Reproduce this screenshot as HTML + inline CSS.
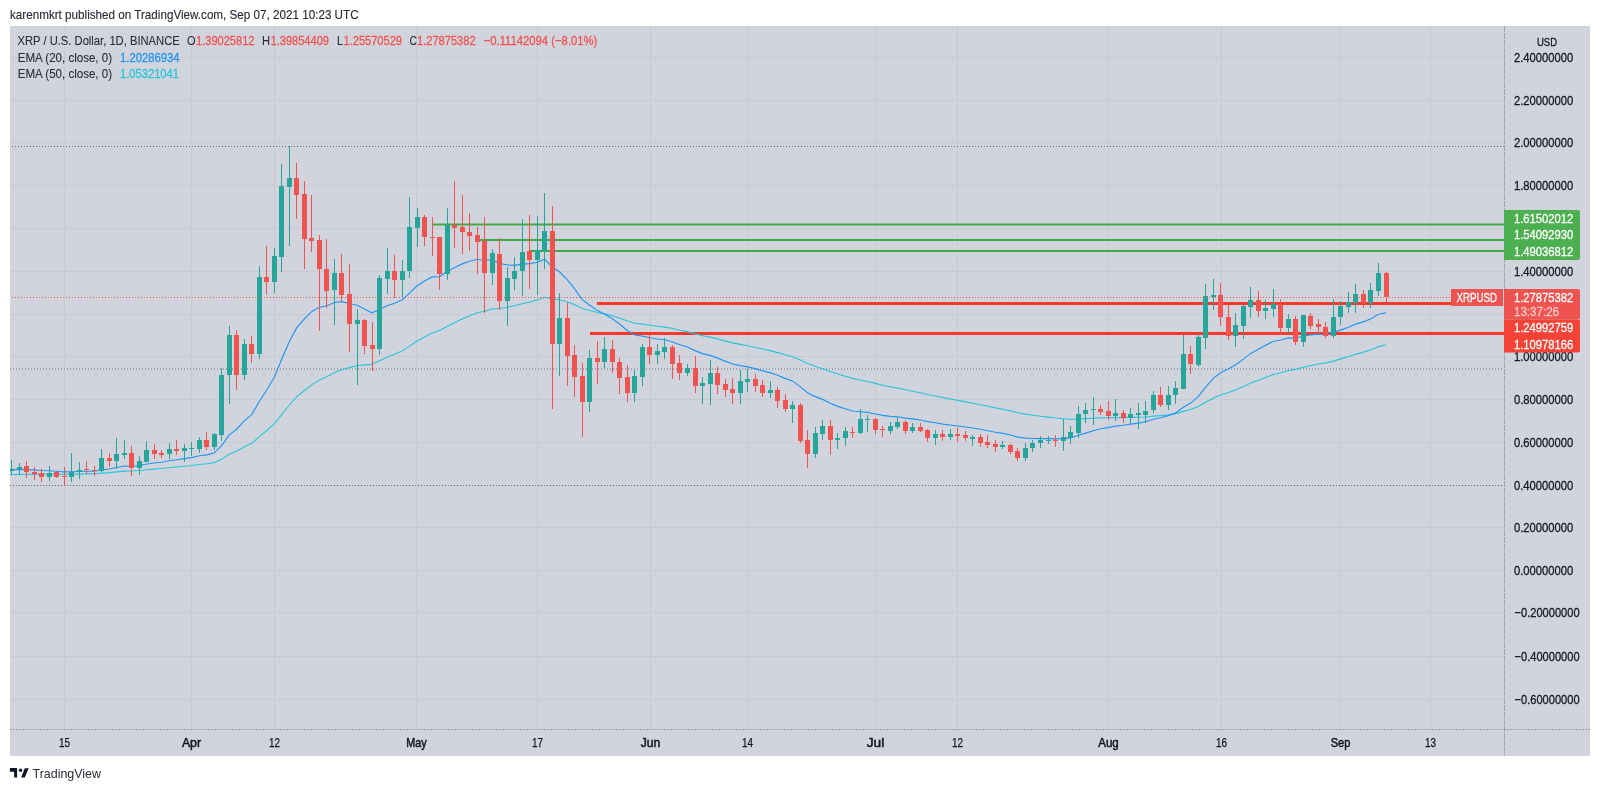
<!DOCTYPE html><html><head><meta charset="utf-8"><style>
html,body{margin:0;padding:0;background:#fff;width:1600px;height:791px;overflow:hidden}
svg{position:absolute;left:0;top:0;will-change:transform;font-family:"Liberation Sans",sans-serif}
</style></head><body>
<svg width="1600" height="791" viewBox="0 0 1600 791">
<defs><clipPath id="pane"><rect x="10" y="26" width="1494" height="703.5"/></clipPath></defs>
<text x="10" y="18.5" font-size="12.6" fill="#2a2e39" stroke="#2a2e39" stroke-width="0.15" textLength="348.6" lengthAdjust="spacingAndGlyphs">karenmkrt published on TradingView.com, Sep 07, 2021 10:23 UTC</text>
<rect x="10" y="26" width="1580" height="730" fill="#d1d4dc"/>
<path d="M10 57.5H1504 M10 100.5H1504 M10 142.5H1504 M10 185.5H1504 M10 228.5H1504 M10 271.5H1504 M10 314.5H1504 M10 356.5H1504 M10 399.5H1504 M10 442.5H1504 M10 485.5H1504 M10 527.5H1504 M10 570.5H1504 M10 612.5H1504 M10 656.5H1504 M10 699.5H1504 M64.5 26V729.5 M191.5 26V729.5 M274.5 26V729.5 M416.5 26V729.5 M537.5 26V729.5 M650.5 26V729.5 M747.5 26V729.5 M875.5 26V729.5 M957.5 26V729.5 M1108.5 26V729.5 M1221.5 26V729.5 M1340.5 26V729.5 M1430.5 26V729.5" stroke="#c7cad2" stroke-width="1" fill="none"/>
<path d="M1504.5 26V756" stroke="#8f929b" stroke-width="1" stroke-dasharray="6,1" fill="none" opacity="0.7"/>
<path d="M10 729.5H1590" stroke="#8f929b" stroke-width="1" stroke-dasharray="2,1" fill="none" opacity="0.75"/>
<g clip-path="url(#pane)">
<path d="M10 146.5H1504" stroke="#6a6d78" stroke-width="1" stroke-dasharray="1,2" stroke-dashoffset="1" fill="none"/>
<path d="M10 369H1504 M10 485.5H1504" stroke="#6a6d78" stroke-width="1" stroke-dasharray="1,2" fill="none"/>
<path d="M433 224.5H1504 M480 240H1504 M530 251H1504" stroke="#43a847" stroke-width="2" fill="none"/>
<path d="M597 303.5H1452 M590 333.5H1504" stroke="#f7392c" stroke-width="3" fill="none"/>
<polyline points="4.0,475.0 11.5,474.8 19.0,474.4 26.5,474.3 34.0,474.3 41.5,474.3 49.1,474.2 56.6,474.3 64.1,474.4 71.6,474.3 79.1,474.1 86.6,473.9 94.1,473.8 101.6,473.1 109.1,472.6 116.7,471.9 124.2,471.1 131.7,471.0 139.2,470.5 146.7,469.7 154.2,469.1 161.7,468.5 169.2,467.7 176.7,467.0 184.3,466.2 191.8,465.5 199.3,464.5 206.8,463.7 214.3,462.6 221.8,459.1 229.3,454.2 236.8,451.1 244.3,446.8 251.9,443.2 259.4,436.6 266.9,430.5 274.4,423.7 281.9,414.3 289.4,405.0 296.9,396.7 304.4,390.5 311.9,384.6 319.5,380.1 327.0,376.5 334.5,372.5 342.0,369.4 349.5,367.6 357.0,365.7 364.5,364.9 372.0,364.2 379.5,360.8 387.1,357.3 394.6,354.2 402.1,350.9 409.6,346.1 417.1,341.0 424.6,336.9 432.1,333.0 439.6,330.6 447.1,326.5 454.6,322.6 462.2,319.0 469.7,315.7 477.2,312.8 484.7,311.2 492.2,308.9 499.7,308.5 507.2,307.3 514.7,305.8 522.2,303.7 529.8,302.0 537.3,299.9 544.8,297.2 552.3,299.0 559.8,299.7 567.3,301.9 574.8,304.8 582.3,308.6 589.8,310.5 597.4,312.5 604.9,313.9 612.4,315.8 619.9,318.2 627.4,321.1 634.9,323.2 642.4,324.1 649.9,325.3 657.4,326.3 665.0,327.1 672.5,328.5 680.0,330.2 687.5,331.6 695.0,333.7 702.5,335.7 710.0,337.1 717.5,338.9 725.0,340.9 732.6,342.9 740.1,344.4 747.6,345.7 755.1,347.3 762.6,349.0 770.1,350.6 777.6,352.6 785.1,354.8 792.6,356.7 800.2,360.0 807.7,363.6 815.2,366.3 822.7,368.7 830.2,371.4 837.7,374.0 845.2,376.2 852.7,378.4 860.2,380.0 867.8,381.5 875.3,383.4 882.8,385.2 890.3,386.8 897.8,388.1 905.3,389.8 912.8,391.2 920.3,392.7 927.8,394.5 935.4,396.0 942.9,397.6 950.4,399.0 957.9,400.4 965.4,401.9 972.9,403.2 980.4,404.8 987.9,406.3 995.4,407.9 1003.0,409.3 1010.5,410.9 1018.0,412.8 1025.5,414.1 1033.0,415.2 1040.5,416.2 1048.0,417.1 1055.5,418.0 1063.0,418.7 1070.6,419.2 1078.1,419.0 1085.6,418.6 1093.1,418.2 1100.6,417.9 1108.1,417.8 1115.6,417.6 1123.1,417.6 1130.6,417.4 1138.2,417.2 1145.7,417.0 1153.2,416.1 1160.7,415.6 1168.2,414.8 1175.7,413.7 1183.2,411.4 1190.7,409.5 1198.2,406.6 1205.7,402.3 1213.3,398.1 1220.8,394.9 1228.3,392.5 1235.8,389.9 1243.3,386.6 1250.8,383.1 1258.3,380.3 1265.8,377.4 1273.3,374.5 1280.9,372.7 1288.4,370.5 1295.9,369.4 1303.4,367.2 1310.9,365.6 1318.4,364.0 1325.9,362.9 1333.4,361.1 1340.9,358.9 1348.5,356.6 1356.0,354.1 1363.5,352.1 1371.0,349.7 1378.5,346.6 1386.0,344.7" fill="none" stroke="#26c6da" stroke-width="1.1"/>
<polyline points="4.0,469.9 11.5,469.7 19.0,469.4 26.5,469.6 34.0,469.9 41.5,470.5 49.1,470.7 56.6,471.3 64.1,471.8 71.6,471.7 79.1,471.5 86.6,471.3 94.1,471.2 101.6,469.9 109.1,469.0 116.7,467.5 124.2,466.0 131.7,466.2 139.2,465.6 146.7,464.0 154.2,463.0 161.7,462.2 169.2,460.8 176.7,459.8 184.3,458.6 191.8,457.6 199.3,455.8 206.8,454.9 214.3,452.8 221.8,445.3 229.3,434.8 236.8,429.0 244.3,420.9 251.9,414.4 259.4,401.3 266.9,389.8 274.4,377.0 281.9,358.8 289.4,341.5 296.9,327.4 304.4,318.9 311.9,311.4 319.5,307.3 327.0,305.7 334.5,302.5 342.0,301.7 349.5,303.8 357.0,305.3 364.5,309.0 372.0,312.8 379.5,309.4 387.1,305.7 394.6,303.2 402.1,300.0 409.6,293.1 417.1,285.8 424.6,281.1 432.1,276.9 439.6,276.6 447.1,271.6 454.6,267.4 462.2,263.9 469.7,261.2 477.2,259.3 484.7,260.5 492.2,259.7 499.7,263.5 507.2,264.9 514.7,265.4 522.2,264.1 529.8,263.6 537.3,262.3 544.8,259.2 552.3,267.2 559.8,272.0 567.3,279.9 574.8,289.1 582.3,299.7 589.8,305.2 597.4,310.6 604.9,314.2 612.4,318.7 619.9,324.2 627.4,330.7 634.9,335.0 642.4,336.1 649.9,337.8 657.4,339.0 665.0,339.7 672.5,342.0 680.0,344.8 687.5,347.0 695.0,350.6 702.5,353.6 710.0,355.4 717.5,358.1 725.0,361.1 732.6,364.0 740.1,365.6 747.6,366.9 755.1,368.6 762.6,370.9 770.1,372.6 777.6,375.3 785.1,378.4 792.6,380.9 800.2,386.6 807.7,392.9 815.2,396.6 822.7,399.4 830.2,403.2 837.7,406.4 845.2,408.7 852.7,411.0 860.2,411.7 867.8,412.4 875.3,414.0 882.8,415.4 890.3,416.4 897.8,416.8 905.3,418.1 912.8,418.9 920.3,420.0 927.8,421.6 935.4,422.8 942.9,424.1 950.4,425.0 957.9,426.0 965.4,427.0 972.9,428.0 980.4,429.3 987.9,430.7 995.4,432.2 1003.0,433.4 1010.5,435.0 1018.0,437.1 1025.5,438.1 1033.0,438.5 1040.5,438.6 1048.0,438.6 1055.5,438.8 1063.0,438.6 1070.6,437.9 1078.1,435.5 1085.6,433.1 1093.1,430.7 1100.6,428.8 1108.1,427.6 1115.6,426.1 1123.1,425.3 1130.6,424.1 1138.2,423.1 1145.7,421.8 1153.2,419.2 1160.7,417.8 1168.2,415.6 1175.7,412.9 1183.2,407.2 1190.7,403.1 1198.2,396.7 1205.7,387.1 1213.3,378.3 1220.8,372.5 1228.3,368.9 1235.8,364.7 1243.3,359.1 1250.8,353.4 1258.3,349.3 1265.8,345.3 1273.3,341.3 1280.9,340.0 1288.4,337.9 1295.9,338.2 1303.4,336.0 1310.9,334.9 1318.4,334.1 1325.9,334.2 1333.4,332.5 1340.9,329.9 1348.5,327.2 1356.0,323.9 1363.5,321.9 1371.0,318.8 1378.5,314.3 1386.0,312.7" fill="none" stroke="#2196f3" stroke-width="1.15"/>
<g shape-rendering="crispEdges"><rect x="11" y="459.8" width="1" height="14.7" fill="#26a69a"/><rect x="9" y="468.8" width="5" height="1.9" fill="#26a69a"/><rect x="19" y="462.8" width="1" height="11.7" fill="#26a69a"/><rect x="17" y="466.6" width="5" height="2.2" fill="#26a69a"/><rect x="26" y="460.8" width="1" height="17.0" fill="#ef5350"/><rect x="24" y="466.4" width="5" height="5.5" fill="#ef5350"/><rect x="34" y="467.4" width="1" height="12.6" fill="#ef5350"/><rect x="32" y="471.5" width="5" height="2.5" fill="#ef5350"/><rect x="41" y="468.5" width="1" height="13.5" fill="#ef5350"/><rect x="39" y="473.3" width="5" height="3.6" fill="#ef5350"/><rect x="49" y="466.4" width="1" height="14.3" fill="#26a69a"/><rect x="47" y="472.6" width="5" height="4.3" fill="#26a69a"/><rect x="56" y="470.7" width="1" height="7.1" fill="#ef5350"/><rect x="54" y="472.4" width="5" height="4.9" fill="#ef5350"/><rect x="64" y="467.4" width="1" height="18.5" fill="#ef5350"/><rect x="62" y="476.2" width="5" height="1.0" fill="#ef5350"/><rect x="71" y="452.9" width="1" height="29.1" fill="#26a69a"/><rect x="69" y="471.7" width="5" height="5.2" fill="#26a69a"/><rect x="79" y="461.7" width="1" height="17.1" fill="#26a69a"/><rect x="77" y="469.8" width="5" height="1.9" fill="#26a69a"/><rect x="86" y="460.8" width="1" height="13.2" fill="#ef5350"/><rect x="84" y="469.1" width="5" height="1.0" fill="#ef5350"/><rect x="94" y="465.5" width="1" height="10.4" fill="#ef5350"/><rect x="92" y="469.5" width="5" height="1.7" fill="#ef5350"/><rect x="101" y="448.9" width="1" height="23.2" fill="#26a69a"/><rect x="99" y="457.9" width="5" height="12.6" fill="#26a69a"/><rect x="109" y="452.7" width="1" height="14.7" fill="#ef5350"/><rect x="107" y="457.9" width="5" height="2.9" fill="#ef5350"/><rect x="116" y="438.0" width="1" height="31.3" fill="#26a69a"/><rect x="114" y="453.9" width="5" height="6.7" fill="#26a69a"/><rect x="124" y="439.9" width="1" height="19.0" fill="#26a69a"/><rect x="122" y="452.9" width="5" height="1.7" fill="#26a69a"/><rect x="131" y="446.1" width="1" height="30.3" fill="#ef5350"/><rect x="129" y="452.9" width="5" height="15.3" fill="#ef5350"/><rect x="139" y="455.8" width="1" height="19.2" fill="#26a69a"/><rect x="137" y="460.8" width="5" height="7.4" fill="#26a69a"/><rect x="146" y="440.9" width="1" height="20.8" fill="#26a69a"/><rect x="144" y="449.9" width="5" height="11.8" fill="#26a69a"/><rect x="154" y="444.0" width="1" height="14.9" fill="#ef5350"/><rect x="152" y="449.9" width="5" height="4.0" fill="#ef5350"/><rect x="161" y="449.9" width="1" height="7.8" fill="#ef5350"/><rect x="159" y="452.7" width="5" height="1.9" fill="#ef5350"/><rect x="169" y="443.0" width="1" height="15.7" fill="#26a69a"/><rect x="167" y="448.9" width="5" height="5.0" fill="#26a69a"/><rect x="176" y="439.9" width="1" height="15.0" fill="#ef5350"/><rect x="174" y="448.9" width="5" height="1.9" fill="#ef5350"/><rect x="184" y="444.0" width="1" height="17.7" fill="#26a69a"/><rect x="182" y="448.0" width="5" height="2.8" fill="#26a69a"/><rect x="191" y="441.8" width="1" height="14.0" fill="#26a69a"/><rect x="189" y="448.0" width="5" height="1.0" fill="#26a69a"/><rect x="199" y="437.2" width="1" height="15.6" fill="#26a69a"/><rect x="197" y="439.9" width="5" height="9.1" fill="#26a69a"/><rect x="206" y="431.9" width="1" height="18.0" fill="#ef5350"/><rect x="204" y="439.9" width="5" height="6.8" fill="#ef5350"/><rect x="214" y="433.2" width="1" height="16.7" fill="#26a69a"/><rect x="212" y="433.8" width="5" height="13.2" fill="#26a69a"/><rect x="221" y="367.8" width="1" height="73.0" fill="#26a69a"/><rect x="219" y="374.6" width="5" height="60.1" fill="#26a69a"/><rect x="229" y="325.7" width="1" height="78.7" fill="#26a69a"/><rect x="227" y="335.2" width="5" height="39.8" fill="#26a69a"/><rect x="236" y="330.4" width="1" height="59.4" fill="#ef5350"/><rect x="234" y="335.2" width="5" height="39.8" fill="#ef5350"/><rect x="244" y="339.0" width="1" height="40.7" fill="#26a69a"/><rect x="242" y="344.1" width="5" height="30.9" fill="#26a69a"/><rect x="251" y="336.1" width="1" height="26.4" fill="#ef5350"/><rect x="249" y="344.1" width="5" height="9.5" fill="#ef5350"/><rect x="259" y="266.0" width="1" height="92.6" fill="#26a69a"/><rect x="257" y="276.8" width="5" height="76.7" fill="#26a69a"/><rect x="266" y="246.2" width="1" height="48.5" fill="#ef5350"/><rect x="264" y="276.8" width="5" height="5.0" fill="#ef5350"/><rect x="274" y="248.3" width="1" height="44.5" fill="#26a69a"/><rect x="272" y="255.9" width="5" height="25.9" fill="#26a69a"/><rect x="281" y="163.8" width="1" height="108.6" fill="#26a69a"/><rect x="279" y="186.1" width="5" height="70.4" fill="#26a69a"/><rect x="289" y="146.3" width="1" height="99.5" fill="#26a69a"/><rect x="287" y="177.5" width="5" height="9.5" fill="#26a69a"/><rect x="296" y="162.8" width="1" height="56.6" fill="#ef5350"/><rect x="294" y="177.5" width="5" height="17.1" fill="#ef5350"/><rect x="304" y="181.1" width="1" height="88.3" fill="#ef5350"/><rect x="302" y="194.4" width="5" height="44.2" fill="#ef5350"/><rect x="311" y="195.0" width="1" height="56.7" fill="#ef5350"/><rect x="309" y="238.2" width="5" height="2.5" fill="#ef5350"/><rect x="319" y="235.3" width="1" height="95.4" fill="#ef5350"/><rect x="317" y="240.1" width="5" height="29.1" fill="#ef5350"/><rect x="326" y="239.1" width="1" height="69.3" fill="#ef5350"/><rect x="324" y="268.9" width="5" height="21.8" fill="#ef5350"/><rect x="334" y="258.8" width="1" height="66.0" fill="#26a69a"/><rect x="332" y="273.3" width="5" height="16.7" fill="#26a69a"/><rect x="341" y="254.1" width="1" height="46.6" fill="#ef5350"/><rect x="339" y="273.3" width="5" height="21.3" fill="#ef5350"/><rect x="349" y="263.8" width="1" height="88.1" fill="#ef5350"/><rect x="347" y="294.0" width="5" height="30.1" fill="#ef5350"/><rect x="357" y="309.0" width="1" height="76.4" fill="#26a69a"/><rect x="355" y="319.7" width="5" height="4.4" fill="#26a69a"/><rect x="364" y="319.1" width="1" height="34.7" fill="#ef5350"/><rect x="362" y="319.7" width="5" height="25.9" fill="#ef5350"/><rect x="372" y="321.6" width="1" height="49.3" fill="#ef5350"/><rect x="370" y="345.4" width="5" height="3.4" fill="#ef5350"/><rect x="379" y="274.6" width="1" height="80.1" fill="#26a69a"/><rect x="377" y="278.4" width="5" height="70.4" fill="#26a69a"/><rect x="387" y="247.8" width="1" height="46.2" fill="#26a69a"/><rect x="385" y="270.5" width="5" height="8.9" fill="#26a69a"/><rect x="394" y="255.0" width="1" height="42.5" fill="#ef5350"/><rect x="392" y="270.5" width="5" height="9.6" fill="#ef5350"/><rect x="402" y="260.0" width="1" height="37.4" fill="#26a69a"/><rect x="400" y="270.9" width="5" height="9.2" fill="#26a69a"/><rect x="409" y="197.1" width="1" height="80.7" fill="#26a69a"/><rect x="407" y="227.4" width="5" height="43.6" fill="#26a69a"/><rect x="417" y="208.1" width="1" height="38.7" fill="#26a69a"/><rect x="415" y="216.9" width="5" height="11.1" fill="#26a69a"/><rect x="424" y="215.1" width="1" height="30.6" fill="#ef5350"/><rect x="422" y="216.9" width="5" height="20.0" fill="#ef5350"/><rect x="432" y="216.7" width="1" height="39.7" fill="#ef5350"/><rect x="430" y="236.5" width="5" height="1.4" fill="#ef5350"/><rect x="439" y="237.1" width="1" height="52.7" fill="#ef5350"/><rect x="437" y="237.1" width="5" height="37.0" fill="#ef5350"/><rect x="447" y="208.1" width="1" height="72.0" fill="#26a69a"/><rect x="445" y="224.9" width="5" height="49.2" fill="#26a69a"/><rect x="454" y="181.3" width="1" height="66.6" fill="#ef5350"/><rect x="452" y="224.9" width="5" height="3.1" fill="#ef5350"/><rect x="462" y="195.2" width="1" height="58.3" fill="#ef5350"/><rect x="460" y="227.4" width="5" height="4.4" fill="#ef5350"/><rect x="469" y="212.9" width="1" height="37.9" fill="#ef5350"/><rect x="467" y="231.6" width="5" height="4.0" fill="#ef5350"/><rect x="477" y="227.4" width="1" height="46.8" fill="#ef5350"/><rect x="475" y="235.2" width="5" height="6.5" fill="#ef5350"/><rect x="484" y="216.7" width="1" height="96.4" fill="#ef5350"/><rect x="482" y="241.3" width="5" height="31.3" fill="#ef5350"/><rect x="492" y="249.3" width="1" height="35.4" fill="#26a69a"/><rect x="490" y="252.9" width="5" height="19.7" fill="#26a69a"/><rect x="499" y="237.5" width="1" height="72.8" fill="#ef5350"/><rect x="497" y="254.0" width="5" height="46.5" fill="#ef5350"/><rect x="507" y="267.0" width="1" height="58.7" fill="#26a69a"/><rect x="505" y="278.3" width="5" height="22.2" fill="#26a69a"/><rect x="514" y="256.9" width="1" height="32.8" fill="#26a69a"/><rect x="512" y="270.7" width="5" height="8.3" fill="#26a69a"/><rect x="522" y="218.8" width="1" height="76.9" fill="#26a69a"/><rect x="520" y="252.1" width="5" height="18.6" fill="#26a69a"/><rect x="529" y="214.8" width="1" height="74.0" fill="#ef5350"/><rect x="527" y="251.0" width="5" height="9.2" fill="#ef5350"/><rect x="537" y="216.0" width="1" height="78.8" fill="#26a69a"/><rect x="535" y="250.4" width="5" height="9.8" fill="#26a69a"/><rect x="544" y="193.0" width="1" height="76.3" fill="#26a69a"/><rect x="542" y="230.5" width="5" height="20.0" fill="#26a69a"/><rect x="552" y="206.2" width="1" height="202.3" fill="#ef5350"/><rect x="550" y="230.5" width="5" height="113.3" fill="#ef5350"/><rect x="559" y="292.6" width="1" height="83.4" fill="#26a69a"/><rect x="557" y="317.5" width="5" height="26.3" fill="#26a69a"/><rect x="567" y="302.8" width="1" height="83.0" fill="#ef5350"/><rect x="565" y="317.5" width="5" height="38.4" fill="#ef5350"/><rect x="574" y="345.1" width="1" height="51.5" fill="#ef5350"/><rect x="572" y="354.8" width="5" height="21.9" fill="#ef5350"/><rect x="582" y="363.0" width="1" height="73.8" fill="#ef5350"/><rect x="580" y="376.4" width="5" height="25.1" fill="#ef5350"/><rect x="589" y="349.8" width="1" height="61.8" fill="#26a69a"/><rect x="587" y="358.1" width="5" height="43.4" fill="#26a69a"/><rect x="597" y="341.1" width="1" height="42.7" fill="#ef5350"/><rect x="595" y="358.1" width="5" height="4.1" fill="#ef5350"/><rect x="604" y="337.1" width="1" height="30.8" fill="#26a69a"/><rect x="602" y="348.9" width="5" height="13.3" fill="#26a69a"/><rect x="612" y="340.0" width="1" height="33.0" fill="#ef5350"/><rect x="610" y="348.9" width="5" height="13.3" fill="#ef5350"/><rect x="619" y="358.2" width="1" height="35.6" fill="#ef5350"/><rect x="617" y="362.0" width="5" height="15.5" fill="#ef5350"/><rect x="627" y="365.0" width="1" height="36.9" fill="#ef5350"/><rect x="625" y="377.4" width="5" height="15.3" fill="#ef5350"/><rect x="634" y="369.5" width="1" height="32.4" fill="#26a69a"/><rect x="632" y="376.4" width="5" height="16.3" fill="#26a69a"/><rect x="642" y="343.5" width="1" height="42.2" fill="#26a69a"/><rect x="640" y="347.1" width="5" height="29.5" fill="#26a69a"/><rect x="649" y="335.2" width="1" height="28.3" fill="#ef5350"/><rect x="647" y="347.1" width="5" height="7.8" fill="#ef5350"/><rect x="657" y="343.5" width="1" height="20.8" fill="#26a69a"/><rect x="655" y="351.1" width="5" height="3.8" fill="#26a69a"/><rect x="664" y="338.4" width="1" height="21.0" fill="#26a69a"/><rect x="662" y="347.1" width="5" height="4.8" fill="#26a69a"/><rect x="672" y="345.3" width="1" height="33.5" fill="#ef5350"/><rect x="670" y="347.1" width="5" height="16.6" fill="#ef5350"/><rect x="679" y="355.2" width="1" height="24.7" fill="#ef5350"/><rect x="677" y="363.0" width="5" height="9.8" fill="#ef5350"/><rect x="687" y="363.9" width="1" height="12.1" fill="#26a69a"/><rect x="685" y="367.6" width="5" height="5.4" fill="#26a69a"/><rect x="695" y="356.1" width="1" height="36.6" fill="#ef5350"/><rect x="693" y="367.9" width="5" height="17.7" fill="#ef5350"/><rect x="702" y="376.5" width="1" height="27.3" fill="#26a69a"/><rect x="700" y="383.1" width="5" height="2.7" fill="#26a69a"/><rect x="710" y="359.8" width="1" height="44.8" fill="#26a69a"/><rect x="708" y="372.5" width="5" height="11.1" fill="#26a69a"/><rect x="717" y="366.6" width="1" height="27.1" fill="#ef5350"/><rect x="715" y="372.5" width="5" height="12.6" fill="#ef5350"/><rect x="725" y="379.3" width="1" height="17.4" fill="#ef5350"/><rect x="723" y="384.1" width="5" height="5.6" fill="#ef5350"/><rect x="732" y="378.3" width="1" height="25.5" fill="#ef5350"/><rect x="730" y="389.2" width="5" height="3.5" fill="#ef5350"/><rect x="740" y="370.4" width="1" height="33.2" fill="#26a69a"/><rect x="738" y="381.1" width="5" height="11.6" fill="#26a69a"/><rect x="747" y="369.2" width="1" height="22.5" fill="#26a69a"/><rect x="745" y="379.3" width="5" height="2.8" fill="#26a69a"/><rect x="755" y="373.5" width="1" height="18.2" fill="#ef5350"/><rect x="753" y="379.3" width="5" height="6.5" fill="#ef5350"/><rect x="762" y="380.2" width="1" height="16.4" fill="#ef5350"/><rect x="760" y="385.1" width="5" height="7.8" fill="#ef5350"/><rect x="770" y="381.2" width="1" height="16.4" fill="#26a69a"/><rect x="768" y="390.0" width="5" height="2.9" fill="#26a69a"/><rect x="777" y="387.1" width="1" height="20.4" fill="#ef5350"/><rect x="775" y="390.0" width="5" height="11.0" fill="#ef5350"/><rect x="785" y="394.2" width="1" height="18.2" fill="#ef5350"/><rect x="783" y="400.1" width="5" height="8.6" fill="#ef5350"/><rect x="792" y="401.0" width="1" height="22.3" fill="#26a69a"/><rect x="790" y="405.0" width="5" height="3.7" fill="#26a69a"/><rect x="800" y="403.0" width="1" height="39.5" fill="#ef5350"/><rect x="798" y="405.0" width="5" height="36.3" fill="#ef5350"/><rect x="807" y="430.1" width="1" height="38.2" fill="#ef5350"/><rect x="805" y="440.0" width="5" height="13.6" fill="#ef5350"/><rect x="815" y="426.5" width="1" height="31.9" fill="#26a69a"/><rect x="813" y="432.9" width="5" height="20.7" fill="#26a69a"/><rect x="822" y="420.2" width="1" height="19.7" fill="#26a69a"/><rect x="820" y="426.3" width="5" height="7.6" fill="#26a69a"/><rect x="830" y="420.2" width="1" height="34.6" fill="#ef5350"/><rect x="828" y="426.3" width="5" height="13.4" fill="#ef5350"/><rect x="837" y="433.2" width="1" height="15.5" fill="#26a69a"/><rect x="835" y="437.9" width="5" height="1.7" fill="#26a69a"/><rect x="845" y="427.3" width="1" height="18.4" fill="#26a69a"/><rect x="843" y="431.1" width="5" height="7.3" fill="#26a69a"/><rect x="852" y="427.3" width="1" height="10.6" fill="#ef5350"/><rect x="850" y="431.5" width="5" height="1.4" fill="#ef5350"/><rect x="860" y="408.9" width="1" height="25.0" fill="#26a69a"/><rect x="858" y="419.4" width="5" height="13.5" fill="#26a69a"/><rect x="867" y="414.8" width="1" height="16.9" fill="#26a69a"/><rect x="865" y="419.3" width="5" height="1.0" fill="#26a69a"/><rect x="875" y="418.3" width="1" height="15.4" fill="#ef5350"/><rect x="873" y="418.5" width="5" height="11.4" fill="#ef5350"/><rect x="882" y="426.2" width="1" height="10.5" fill="#ef5350"/><rect x="880" y="428.9" width="5" height="1.0" fill="#ef5350"/><rect x="890" y="421.5" width="1" height="12.2" fill="#26a69a"/><rect x="888" y="426.2" width="5" height="4.8" fill="#26a69a"/><rect x="897" y="417.3" width="1" height="11.3" fill="#26a69a"/><rect x="895" y="421.5" width="5" height="5.4" fill="#26a69a"/><rect x="905" y="419.8" width="1" height="13.9" fill="#ef5350"/><rect x="903" y="421.5" width="5" height="9.5" fill="#ef5350"/><rect x="912" y="422.6" width="1" height="10.1" fill="#26a69a"/><rect x="910" y="427.2" width="5" height="3.8" fill="#26a69a"/><rect x="920" y="423.4" width="1" height="8.6" fill="#ef5350"/><rect x="918" y="427.2" width="5" height="3.8" fill="#ef5350"/><rect x="927" y="429.2" width="1" height="12.6" fill="#ef5350"/><rect x="925" y="430.1" width="5" height="7.6" fill="#ef5350"/><rect x="935" y="430.1" width="1" height="14.4" fill="#26a69a"/><rect x="933" y="434.2" width="5" height="3.7" fill="#26a69a"/><rect x="942" y="430.1" width="1" height="10.9" fill="#ef5350"/><rect x="940" y="434.2" width="5" height="2.7" fill="#ef5350"/><rect x="950" y="429.3" width="1" height="10.3" fill="#26a69a"/><rect x="948" y="434.2" width="5" height="2.7" fill="#26a69a"/><rect x="957" y="428.3" width="1" height="13.4" fill="#ef5350"/><rect x="955" y="434.2" width="5" height="1.7" fill="#ef5350"/><rect x="965" y="431.1" width="1" height="9.9" fill="#ef5350"/><rect x="963" y="434.9" width="5" height="3.0" fill="#ef5350"/><rect x="972" y="435.4" width="1" height="10.3" fill="#26a69a"/><rect x="970" y="437.2" width="5" height="1.7" fill="#26a69a"/><rect x="980" y="434.2" width="1" height="12.5" fill="#ef5350"/><rect x="978" y="437.2" width="5" height="5.5" fill="#ef5350"/><rect x="987" y="435.2" width="1" height="12.3" fill="#ef5350"/><rect x="985" y="442.3" width="5" height="2.7" fill="#ef5350"/><rect x="995" y="440.2" width="1" height="11.6" fill="#ef5350"/><rect x="993" y="444.0" width="5" height="2.7" fill="#ef5350"/><rect x="1002" y="441.0" width="1" height="7.7" fill="#26a69a"/><rect x="1000" y="445.0" width="5" height="1.7" fill="#26a69a"/><rect x="1010" y="444.3" width="1" height="9.3" fill="#ef5350"/><rect x="1008" y="445.0" width="5" height="6.6" fill="#ef5350"/><rect x="1017" y="448.0" width="1" height="12.7" fill="#ef5350"/><rect x="1015" y="451.1" width="5" height="6.5" fill="#ef5350"/><rect x="1025" y="443.0" width="1" height="17.5" fill="#26a69a"/><rect x="1023" y="448.0" width="5" height="9.6" fill="#26a69a"/><rect x="1032" y="440.2" width="1" height="11.4" fill="#26a69a"/><rect x="1030" y="443.0" width="5" height="5.0" fill="#26a69a"/><rect x="1040" y="436.2" width="1" height="11.3" fill="#26a69a"/><rect x="1038" y="440.0" width="5" height="3.0" fill="#26a69a"/><rect x="1048" y="435.9" width="1" height="7.8" fill="#26a69a"/><rect x="1046" y="439.6" width="5" height="1.0" fill="#26a69a"/><rect x="1055" y="435.4" width="1" height="11.3" fill="#ef5350"/><rect x="1053" y="439.9" width="5" height="1.0" fill="#ef5350"/><rect x="1063" y="418.7" width="1" height="31.9" fill="#26a69a"/><rect x="1061" y="437.2" width="5" height="3.4" fill="#26a69a"/><rect x="1070" y="426.3" width="1" height="17.4" fill="#26a69a"/><rect x="1068" y="432.1" width="5" height="5.7" fill="#26a69a"/><rect x="1078" y="406.1" width="1" height="31.7" fill="#26a69a"/><rect x="1076" y="413.9" width="5" height="18.9" fill="#26a69a"/><rect x="1085" y="403.1" width="1" height="19.9" fill="#26a69a"/><rect x="1083" y="410.1" width="5" height="4.3" fill="#26a69a"/><rect x="1093" y="397.2" width="1" height="27.8" fill="#26a69a"/><rect x="1091" y="409.0" width="5" height="1.3" fill="#26a69a"/><rect x="1100" y="405.1" width="1" height="10.3" fill="#ef5350"/><rect x="1098" y="409.0" width="5" height="2.5" fill="#ef5350"/><rect x="1108" y="401.0" width="1" height="19.2" fill="#ef5350"/><rect x="1106" y="410.8" width="5" height="5.4" fill="#ef5350"/><rect x="1115" y="399.0" width="1" height="22.3" fill="#26a69a"/><rect x="1113" y="412.6" width="5" height="3.6" fill="#26a69a"/><rect x="1123" y="409.8" width="1" height="13.2" fill="#ef5350"/><rect x="1121" y="412.6" width="5" height="5.6" fill="#ef5350"/><rect x="1130" y="407.8" width="1" height="15.9" fill="#26a69a"/><rect x="1128" y="413.9" width="5" height="4.3" fill="#26a69a"/><rect x="1138" y="403.1" width="1" height="25.9" fill="#26a69a"/><rect x="1136" y="413.4" width="5" height="1.2" fill="#26a69a"/><rect x="1145" y="401.0" width="1" height="21.9" fill="#26a69a"/><rect x="1143" y="410.9" width="5" height="3.6" fill="#26a69a"/><rect x="1153" y="391.3" width="1" height="22.1" fill="#26a69a"/><rect x="1151" y="395.1" width="5" height="15.2" fill="#26a69a"/><rect x="1160" y="387.1" width="1" height="19.4" fill="#ef5350"/><rect x="1158" y="395.1" width="5" height="9.7" fill="#ef5350"/><rect x="1168" y="385.9" width="1" height="23.7" fill="#26a69a"/><rect x="1166" y="395.1" width="5" height="9.7" fill="#26a69a"/><rect x="1175" y="381.2" width="1" height="22.8" fill="#26a69a"/><rect x="1173" y="388.2" width="5" height="7.2" fill="#26a69a"/><rect x="1183" y="335.1" width="1" height="54.1" fill="#26a69a"/><rect x="1181" y="353.8" width="5" height="35.4" fill="#26a69a"/><rect x="1190" y="346.2" width="1" height="28.0" fill="#ef5350"/><rect x="1188" y="353.8" width="5" height="10.6" fill="#ef5350"/><rect x="1198" y="334.4" width="1" height="32.9" fill="#26a69a"/><rect x="1196" y="337.0" width="5" height="27.6" fill="#26a69a"/><rect x="1205" y="284.2" width="1" height="64.4" fill="#26a69a"/><rect x="1203" y="296.3" width="5" height="41.3" fill="#26a69a"/><rect x="1213" y="279.1" width="1" height="30.7" fill="#26a69a"/><rect x="1211" y="295.3" width="5" height="1.5" fill="#26a69a"/><rect x="1220" y="282.9" width="1" height="42.7" fill="#ef5350"/><rect x="1218" y="295.3" width="5" height="22.1" fill="#ef5350"/><rect x="1228" y="304.4" width="1" height="35.1" fill="#ef5350"/><rect x="1226" y="316.8" width="5" height="18.9" fill="#ef5350"/><rect x="1235" y="313.0" width="1" height="33.5" fill="#26a69a"/><rect x="1233" y="325.4" width="5" height="10.3" fill="#26a69a"/><rect x="1243" y="304.8" width="1" height="34.1" fill="#26a69a"/><rect x="1241" y="306.0" width="5" height="19.9" fill="#26a69a"/><rect x="1250" y="287.1" width="1" height="30.9" fill="#26a69a"/><rect x="1248" y="300.1" width="5" height="6.8" fill="#26a69a"/><rect x="1258" y="290.9" width="1" height="25.9" fill="#ef5350"/><rect x="1256" y="300.1" width="5" height="10.6" fill="#ef5350"/><rect x="1265" y="300.1" width="1" height="19.2" fill="#26a69a"/><rect x="1263" y="307.9" width="5" height="2.8" fill="#26a69a"/><rect x="1273" y="289.2" width="1" height="27.3" fill="#26a69a"/><rect x="1271" y="303.9" width="5" height="4.7" fill="#26a69a"/><rect x="1280" y="299.3" width="1" height="33.3" fill="#ef5350"/><rect x="1278" y="303.9" width="5" height="24.3" fill="#ef5350"/><rect x="1288" y="314.0" width="1" height="19.8" fill="#26a69a"/><rect x="1286" y="318.7" width="5" height="9.5" fill="#26a69a"/><rect x="1295" y="316.1" width="1" height="28.5" fill="#ef5350"/><rect x="1293" y="318.7" width="5" height="23.4" fill="#ef5350"/><rect x="1303" y="314.9" width="1" height="31.6" fill="#26a69a"/><rect x="1301" y="315.3" width="5" height="26.8" fill="#26a69a"/><rect x="1310" y="313.0" width="1" height="15.8" fill="#ef5350"/><rect x="1308" y="315.8" width="5" height="9.8" fill="#ef5350"/><rect x="1318" y="318.7" width="1" height="13.9" fill="#ef5350"/><rect x="1316" y="324.4" width="5" height="2.2" fill="#ef5350"/><rect x="1325" y="321.6" width="1" height="16.4" fill="#ef5350"/><rect x="1323" y="326.6" width="5" height="9.1" fill="#ef5350"/><rect x="1333" y="299.3" width="1" height="38.3" fill="#26a69a"/><rect x="1331" y="316.8" width="5" height="18.9" fill="#26a69a"/><rect x="1340" y="301.0" width="1" height="24.0" fill="#26a69a"/><rect x="1338" y="306.0" width="5" height="11.4" fill="#26a69a"/><rect x="1348" y="292.0" width="1" height="20.6" fill="#26a69a"/><rect x="1346" y="301.8" width="5" height="4.8" fill="#26a69a"/><rect x="1355" y="284.1" width="1" height="28.5" fill="#26a69a"/><rect x="1353" y="294.0" width="5" height="8.8" fill="#26a69a"/><rect x="1363" y="290.2" width="1" height="17.3" fill="#ef5350"/><rect x="1361" y="294.0" width="5" height="8.8" fill="#ef5350"/><rect x="1370" y="283.1" width="1" height="24.4" fill="#26a69a"/><rect x="1368" y="290.2" width="5" height="12.6" fill="#26a69a"/><rect x="1378" y="262.6" width="1" height="33.2" fill="#26a69a"/><rect x="1376" y="272.5" width="5" height="18.2" fill="#26a69a"/><rect x="1386" y="272.1" width="1" height="29.7" fill="#ef5350"/><rect x="1384" y="272.5" width="5" height="24.9" fill="#ef5350"/></g>
<path d="M10 297.5H1452" stroke="#ef5350" stroke-width="1" stroke-dasharray="1,2" stroke-dashoffset="1" fill="none"/>
</g>
<text x="17.5" y="44.9" font-size="12.8" fill="#2a2e39" stroke="#2a2e39" stroke-width="0.1" textLength="162.2" lengthAdjust="spacingAndGlyphs">XRP / U.S. Dollar, 1D, BINANCE</text>
<text x="187" y="44.9" font-size="12.8" fill="#2a2e39" stroke="#2a2e39" stroke-width="0.1" textLength="8.6" lengthAdjust="spacingAndGlyphs">O</text>
<text x="196" y="44.9" font-size="12.8" fill="#ef5350" stroke="#ef5350" stroke-width="0.3" textLength="58.5" lengthAdjust="spacingAndGlyphs">1.39025812</text>
<text x="262" y="44.9" font-size="12.8" fill="#2a2e39" stroke="#2a2e39" stroke-width="0.1" textLength="8" lengthAdjust="spacingAndGlyphs">H</text>
<text x="270.5" y="44.9" font-size="12.8" fill="#ef5350" stroke="#ef5350" stroke-width="0.3" textLength="58.5" lengthAdjust="spacingAndGlyphs">1.39854409</text>
<text x="337" y="44.9" font-size="12.8" fill="#2a2e39" stroke="#2a2e39" stroke-width="0.1" textLength="6" lengthAdjust="spacingAndGlyphs">L</text>
<text x="343.5" y="44.9" font-size="12.8" fill="#ef5350" stroke="#ef5350" stroke-width="0.3" textLength="58.5" lengthAdjust="spacingAndGlyphs">1.25570529</text>
<text x="409.5" y="44.9" font-size="12.8" fill="#2a2e39" stroke="#2a2e39" stroke-width="0.1" textLength="7.5" lengthAdjust="spacingAndGlyphs">C</text>
<text x="417" y="44.9" font-size="12.8" fill="#ef5350" stroke="#ef5350" stroke-width="0.3" textLength="58.6" lengthAdjust="spacingAndGlyphs">1.27875382</text>
<text x="483.6" y="44.9" font-size="12.8" fill="#ef5350" stroke="#ef5350" stroke-width="0.3" textLength="113.8" lengthAdjust="spacingAndGlyphs">−0.11142094 (−8.01%)</text>
<text x="17.8" y="61.6" font-size="12.8" fill="#2a2e39" stroke="#2a2e39" stroke-width="0.1" textLength="94.2" lengthAdjust="spacingAndGlyphs">EMA (20, close, 0)</text>
<text x="120" y="61.6" font-size="12.8" fill="#2196f3" stroke="#2196f3" stroke-width="0.3" textLength="59.5" lengthAdjust="spacingAndGlyphs">1.20286934</text>
<text x="17.8" y="78.4" font-size="12.8" fill="#2a2e39" stroke="#2a2e39" stroke-width="0.1" textLength="94.2" lengthAdjust="spacingAndGlyphs">EMA (50, close, 0)</text>
<text x="120" y="78.4" font-size="12.8" fill="#26c6da" stroke="#26c6da" stroke-width="0.3" textLength="59.0" lengthAdjust="spacingAndGlyphs">1.05321041</text>
<text x="1547" y="45.6" font-size="11.6" fill="#131722" stroke="#131722" stroke-width="0.3" textLength="20.1" lengthAdjust="spacingAndGlyphs" text-anchor="middle">USD</text>
<text x="1514" y="61.5" font-size="13" fill="#131722" stroke="#131722" stroke-width="0.3" textLength="59.2" lengthAdjust="spacingAndGlyphs">2.40000000</text>
<text x="1514" y="104.5" font-size="13" fill="#131722" stroke="#131722" stroke-width="0.3" textLength="59.2" lengthAdjust="spacingAndGlyphs">2.20000000</text>
<text x="1514" y="146.5" font-size="13" fill="#131722" stroke="#131722" stroke-width="0.3" textLength="59.2" lengthAdjust="spacingAndGlyphs">2.00000000</text>
<text x="1514" y="189.5" font-size="13" fill="#131722" stroke="#131722" stroke-width="0.3" textLength="59.2" lengthAdjust="spacingAndGlyphs">1.80000000</text>
<text x="1514" y="232.5" font-size="13" fill="#131722" stroke="#131722" stroke-width="0.3" textLength="59.2" lengthAdjust="spacingAndGlyphs">1.60000000</text>
<text x="1514" y="275.5" font-size="13" fill="#131722" stroke="#131722" stroke-width="0.3" textLength="59.2" lengthAdjust="spacingAndGlyphs">1.40000000</text>
<text x="1514" y="318.5" font-size="13" fill="#131722" stroke="#131722" stroke-width="0.3" textLength="59.2" lengthAdjust="spacingAndGlyphs">1.20000000</text>
<text x="1514" y="360.5" font-size="13" fill="#131722" stroke="#131722" stroke-width="0.3" textLength="59.2" lengthAdjust="spacingAndGlyphs">1.00000000</text>
<text x="1514" y="403.5" font-size="13" fill="#131722" stroke="#131722" stroke-width="0.3" textLength="59.2" lengthAdjust="spacingAndGlyphs">0.80000000</text>
<text x="1514" y="446.5" font-size="13" fill="#131722" stroke="#131722" stroke-width="0.3" textLength="59.2" lengthAdjust="spacingAndGlyphs">0.60000000</text>
<text x="1514" y="489.5" font-size="13" fill="#131722" stroke="#131722" stroke-width="0.3" textLength="59.2" lengthAdjust="spacingAndGlyphs">0.40000000</text>
<text x="1514" y="531.5" font-size="13" fill="#131722" stroke="#131722" stroke-width="0.3" textLength="59.2" lengthAdjust="spacingAndGlyphs">0.20000000</text>
<text x="1514" y="574.5" font-size="13" fill="#131722" stroke="#131722" stroke-width="0.3" textLength="59.2" lengthAdjust="spacingAndGlyphs">0.00000000</text>
<text x="1514.6" y="616.5" font-size="13" fill="#131722" stroke="#131722" stroke-width="0.3" textLength="65" lengthAdjust="spacingAndGlyphs">−0.20000000</text>
<text x="1514.6" y="660.5" font-size="13" fill="#131722" stroke="#131722" stroke-width="0.3" textLength="65" lengthAdjust="spacingAndGlyphs">−0.40000000</text>
<text x="1514.6" y="703.5" font-size="13" fill="#131722" stroke="#131722" stroke-width="0.3" textLength="65" lengthAdjust="spacingAndGlyphs">−0.60000000</text>
<path d="M1504 210H1578Q1580 210 1580 212V258Q1580 260 1578 260H1504Z" fill="#4caf50"/>
<text x="1514" y="222.6" font-size="13" fill="#fff" stroke="#fff" stroke-width="0.3" textLength="59.2" lengthAdjust="spacingAndGlyphs">1.61502012</text>
<text x="1514" y="238.8" font-size="13" fill="#fff" stroke="#fff" stroke-width="0.3" textLength="59.2" lengthAdjust="spacingAndGlyphs">1.54092930</text>
<text x="1514" y="255.6" font-size="13" fill="#fff" stroke="#fff" stroke-width="0.3" textLength="59.2" lengthAdjust="spacingAndGlyphs">1.49036812</text>
<rect x="1451" y="289" width="52" height="17" fill="#ef5350"/>
<text x="1456.6" y="301.7" font-size="12" fill="#fff" stroke="#fff" stroke-width="0.3" textLength="40.4" lengthAdjust="spacingAndGlyphs">XRPUSD</text>
<path d="M1504 289H1578Q1580 289 1580 291V317.5Q1580 319.5 1578 319.5H1504Z" fill="#ef5350"/>
<text x="1514" y="301.7" font-size="13" fill="#fff" stroke="#fff" stroke-width="0.3" textLength="59.2" lengthAdjust="spacingAndGlyphs">1.27875382</text>
<text x="1514" y="315.7" font-size="13" fill="#f9c8c6" stroke="#f9c8c6" stroke-width="0.3" textLength="45" lengthAdjust="spacingAndGlyphs">13:37:26</text>
<path d="M1504 319.5H1578Q1580 319.5 1580 321.5V350.5Q1580 352.5 1578 352.5H1504Z" fill="#f44336"/>
<text x="1514" y="332.1" font-size="13" fill="#fff" stroke="#fff" stroke-width="0.3" textLength="59.2" lengthAdjust="spacingAndGlyphs">1.24992759</text>
<text x="1514" y="348.9" font-size="13" fill="#fff" stroke="#fff" stroke-width="0.3" textLength="59.2" lengthAdjust="spacingAndGlyphs">1.10978166</text>
<text x="64.5" y="746.7" font-size="12.2" fill="#131722" stroke="#131722" stroke-width="0.25" textLength="11" lengthAdjust="spacingAndGlyphs" text-anchor="middle">15</text>
<text x="191.5" y="746.7" font-size="12.2" fill="#131722" stroke="#131722" stroke-width="0.5" textLength="19.1" lengthAdjust="spacingAndGlyphs" text-anchor="middle">Apr</text>
<text x="274.5" y="746.7" font-size="12.2" fill="#131722" stroke="#131722" stroke-width="0.25" textLength="11" lengthAdjust="spacingAndGlyphs" text-anchor="middle">12</text>
<text x="416.5" y="746.7" font-size="12.2" fill="#131722" stroke="#131722" stroke-width="0.5" textLength="20.5" lengthAdjust="spacingAndGlyphs" text-anchor="middle">May</text>
<text x="537.5" y="746.7" font-size="12.2" fill="#131722" stroke="#131722" stroke-width="0.25" textLength="11" lengthAdjust="spacingAndGlyphs" text-anchor="middle">17</text>
<text x="650.5" y="746.7" font-size="12.2" fill="#131722" stroke="#131722" stroke-width="0.5" textLength="19.5" lengthAdjust="spacingAndGlyphs" text-anchor="middle">Jun</text>
<text x="747.5" y="746.7" font-size="12.2" fill="#131722" stroke="#131722" stroke-width="0.25" textLength="11" lengthAdjust="spacingAndGlyphs" text-anchor="middle">14</text>
<text x="875.5" y="746.7" font-size="12.2" fill="#131722" stroke="#131722" stroke-width="0.5" textLength="17.5" lengthAdjust="spacingAndGlyphs" text-anchor="middle">Jul</text>
<text x="957.5" y="746.7" font-size="12.2" fill="#131722" stroke="#131722" stroke-width="0.25" textLength="11" lengthAdjust="spacingAndGlyphs" text-anchor="middle">12</text>
<text x="1108.5" y="746.7" font-size="12.2" fill="#131722" stroke="#131722" stroke-width="0.5" textLength="20.5" lengthAdjust="spacingAndGlyphs" text-anchor="middle">Aug</text>
<text x="1221.5" y="746.7" font-size="12.2" fill="#131722" stroke="#131722" stroke-width="0.25" textLength="11" lengthAdjust="spacingAndGlyphs" text-anchor="middle">16</text>
<text x="1340.5" y="746.7" font-size="12.2" fill="#131722" stroke="#131722" stroke-width="0.5" textLength="19.5" lengthAdjust="spacingAndGlyphs" text-anchor="middle">Sep</text>
<text x="1430.5" y="746.7" font-size="12.2" fill="#131722" stroke="#131722" stroke-width="0.25" textLength="11" lengthAdjust="spacingAndGlyphs" text-anchor="middle">13</text>
<g fill="#131722"><path d="M9.9 768.1H17.1V777.6H14.1V771.7H9.9Z"/><circle cx="20.55" cy="770.3" r="1.75"/><path d="M24.8 768.2H28.7L24.8 777.6H21.1Z"/></g>
<text x="32.5" y="777.8" font-size="12.4" fill="#2a2e39" stroke="#2a2e39" stroke-width="0" textLength="68.5" lengthAdjust="spacingAndGlyphs">TradingView</text>
</svg></body></html>
